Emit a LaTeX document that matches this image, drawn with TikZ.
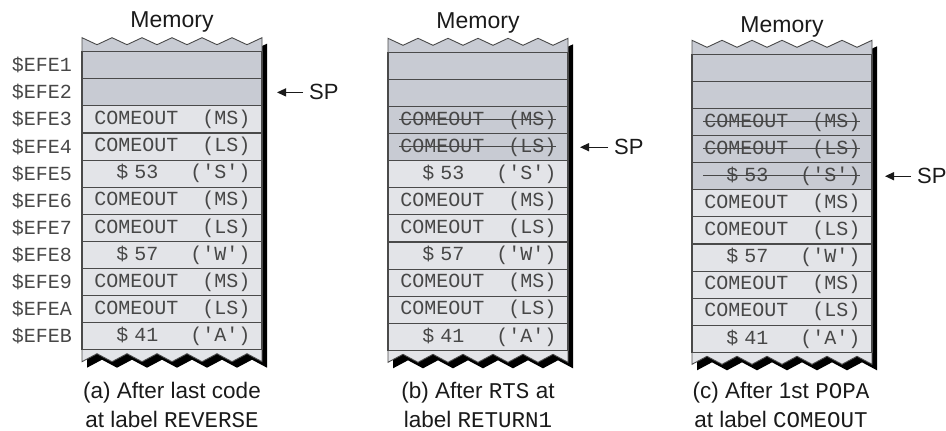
\documentclass[tikz,border=0pt]{standalone}
\usepackage{fontspec}
\setmainfont{Liberation Sans}
\setmonofont{Liberation Mono}
\usetikzlibrary{arrows.meta}
\definecolor{emptyc}{HTML}{C8CBD3}
\definecolor{usedc}{HTML}{E3E4E8}
\definecolor{linec}{HTML}{4A4A4A}
\definecolor{txtc}{HTML}{474747}
\definecolor{inkc}{HTML}{1A1A1A}
\newcommand\rowfnt{\fontsize{20}{22}\selectfont\ttfamily}
\newcommand\txtMS{COMEOUT\hspace{24pt}(MS)}
\newcommand\txtLS{COMEOUT\hspace{24pt}(LS)}
\newcommand\txtS{\$\kern6pt53\kern32pt('S')}
\newcommand\txtW{\$\kern6pt57\kern32pt('W')}
\newcommand\txtA{\$\kern6pt41\kern32pt('A')}
\newcommand\boxshape[2]{(#1,#2-14) \foreach \k in {1,...,12}{ -- ({#1+15*\k},{#2-14+7*mod(\k,2)}) } -- ({#1+180},{#2+310}) \foreach \k in {1,...,12}{ -- ({#1+180-15*\k},{#2+310-8*mod(\k,2)}) } -- cycle}
\newcommand\topband[2]{(#1,#2-14) \foreach \k in {1,...,12}{ -- ({#1+15*\k},{#2-14+7*mod(\k,2)}) } -- ({#1+180},#2) -- (#1,#2) -- cycle}
\newcommand\memcol[2]{%
  \fill[black, shift={(5,6)}] \boxshape{#1}{#2};
  \fill[usedc] \boxshape{#1}{#2};
  \fill[emptyc] \topband{#1}{#2};
  \draw[linec, line width=0.9pt, line join=miter] \boxshape{#1}{#2};
}
\newcommand\mrow[5]{\node[row,#4] (#1) at (#2,#3) {#5};}
\newcommand\strike[1]{\draw[strikeline] ([shift={(11pt,1pt)}]#1.west) -- ([shift={(-12pt,1pt)}]#1.east);}
\begin{document}
\begin{tikzpicture}[x=1pt,y=-1pt,
  row/.style={rectangle, draw=linec, line width=1.1pt, minimum width=180pt,
    minimum height=27.1pt, inner sep=0pt, outer sep=0pt, anchor=north west,
    text width=157pt, align=right, font=\rowfnt, text=txtc, fill=usedc},
  emptyrow/.style={fill=emptyc},
  usedrow/.style={fill=usedc},
  strikeline/.style={draw=txtc, line width=0.9pt},
  addr/.style={anchor=east, inner sep=0pt, font=\rowfnt, text=txtc},
  memlabel/.style={inner sep=0pt, font=\fontsize{23}{26}\selectfont, text=inkc},
  caption/.style={inner sep=0pt, align=center, font=\fontsize{22.5}{29.5}\selectfont, text=inkc},
  splabel/.style={anchor=west, inner sep=0pt, font=\fontsize{22}{24}\selectfont, text=inkc},
  sparrow/.style={draw=inkc, line width=1.3pt, -{Triangle[length=9pt,width=8pt]}}
]
\useasboundingbox (0,0) rectangle (946,431);

% ---------- panel (a) ----------
\memcol{82}{51.7}
\mrow{a1}{82}{51.7}{emptyrow}{}
\mrow{a2}{82}{78.8}{emptyrow}{}
\mrow{a3}{82}{105.9}{usedrow}{\txtMS}
\mrow{a4}{82}{133.0}{usedrow}{\txtLS}
\mrow{a5}{82}{160.1}{usedrow}{\txtS}
\mrow{a6}{82}{187.2}{usedrow}{\txtMS}
\mrow{a7}{82}{214.3}{usedrow}{\txtLS}
\mrow{a8}{82}{241.4}{usedrow}{\txtW}
\mrow{a9}{82}{268.5}{usedrow}{\txtMS}
\mrow{a10}{82}{295.6}{usedrow}{\txtLS}
\mrow{a11}{82}{322.7}{usedrow}{\txtA}
\node[memlabel] (mema) at (172,22) {Memory};
\node[addr] (e1) at (72,65.25) {\$EFE1};
\node[addr] (e2) at (72,92.35) {\$EFE2};
\node[addr] (e3) at (72,119.45) {\$EFE3};
\node[addr] (e4) at (72,146.55) {\$EFE4};
\node[addr] (e5) at (72,173.65) {\$EFE5};
\node[addr] (e6) at (72,200.75) {\$EFE6};
\node[addr] (e7) at (72,227.85) {\$EFE7};
\node[addr] (e8) at (72,254.95) {\$EFE8};
\node[addr] (e9) at (72,282.05) {\$EFE9};
\node[addr] (e10) at (72,309.15) {\$EFEA};
\node[addr] (e11) at (72,336.25) {\$EFEB};
\node[splabel] (spa) at (309,92.4) {SP};
\coordinate (spatip) at (277,92.4);
\draw[sparrow] ([xshift=-6pt]spa.west) -- (spatip);
\node[caption] (capa) at (172,405) {(a) After last code\\at label \texttt{REVERSE}};

% ---------- panel (b) ----------
\memcol{388}{52.3}
\mrow{b1}{388}{52.3}{emptyrow}{}
\mrow{b2}{388}{79.4}{emptyrow}{}
\mrow{b3}{388}{106.5}{emptyrow}{\txtMS}
\mrow{b4}{388}{133.6}{emptyrow}{\txtLS}
\mrow{b5}{388}{160.7}{usedrow}{\txtS}
\mrow{b6}{388}{187.8}{usedrow}{\txtMS}
\mrow{b7}{388}{214.9}{usedrow}{\txtLS}
\mrow{b8}{388}{242.0}{usedrow}{\txtW}
\mrow{b9}{388}{269.1}{usedrow}{\txtMS}
\mrow{b10}{388}{296.2}{usedrow}{\txtLS}
\mrow{b11}{388}{323.3}{usedrow}{\txtA}
\strike{b3}
\strike{b4}
\node[memlabel] (memb) at (478,23) {Memory};
\node[splabel] (spb) at (614,147.2) {SP};
\coordinate (spbtip) at (580,147.2);
\draw[sparrow] ([xshift=-6pt]spb.west) -- (spbtip);
\node[caption] (capb) at (478,405) {(b) After \texttt{RTS} at\\label \texttt{RETURN1}};

% ---------- panel (c) ----------
\memcol{692}{54.3}
\mrow{c1}{692}{54.3}{emptyrow}{}
\mrow{c2}{692}{81.4}{emptyrow}{}
\mrow{c3}{692}{108.5}{emptyrow}{\txtMS}
\mrow{c4}{692}{135.6}{emptyrow}{\txtLS}
\mrow{c5}{692}{162.7}{emptyrow}{\txtS}
\mrow{c6}{692}{189.8}{usedrow}{\txtMS}
\mrow{c7}{692}{216.9}{usedrow}{\txtLS}
\mrow{c8}{692}{244.0}{usedrow}{\txtW}
\mrow{c9}{692}{271.1}{usedrow}{\txtMS}
\mrow{c10}{692}{298.2}{usedrow}{\txtLS}
\mrow{c11}{692}{325.3}{usedrow}{\txtA}
\strike{c3}
\strike{c4}
\strike{c5}
\node[memlabel] (memc) at (782,27) {Memory};
\node[splabel] (spc) at (917,176.2) {SP};
\coordinate (spctip) at (885,176.2);
\draw[sparrow] ([xshift=-6pt]spc.west) -- (spctip);
\node[caption] (capc) at (781,405) {(c) After 1st \texttt{POPA}\\at label \texttt{COMEOUT}};
\end{tikzpicture}
\end{document}
